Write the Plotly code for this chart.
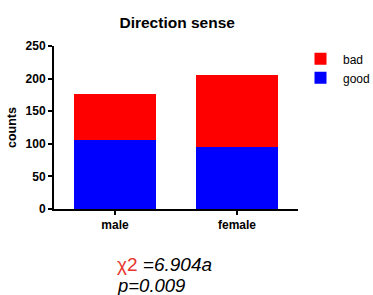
import plotly.graph_objects as go

categories = ["male", "female"]
good = [106, 95]
bad = [71, 110]
y_ticks = [0, 50, 100, 150, 200, 250]

FONT = "Liberation Sans, Arial, sans-serif"

fig = go.Figure()
fig.add_trace(go.Bar(x=categories, y=good, name="good", marker=dict(color="#0000FF", line=dict(width=0))))
fig.add_trace(go.Bar(x=categories, y=bad, name="bad", marker=dict(color="#FF0000", line=dict(width=0))))

fig.update_layout(
    width=373, height=295,
    barmode="stack", bargap=0.32,
    paper_bgcolor="white", plot_bgcolor="white",
    margin=dict(l=54, r=75, t=46, b=86, autoexpand=False),
    font=dict(family=FONT, color="black"),
    title=dict(text="<b>Direction sense</b>", x=0.475, xanchor="center", y=0.925, yanchor="middle",
               font=dict(size=15.5, family=FONT)),
    legend=dict(x=1.0, y=1.01, xanchor="left", yanchor="top", traceorder="reversed",
                font=dict(size=12, family=FONT), bgcolor="rgba(0,0,0,0)", itemsizing="constant",
                itemwidth=35, borderwidth=0),
    showlegend=True,
)
fig.update_yaxes(range=[0, 250], tickvals=y_ticks, showgrid=False, zeroline=False, automargin=False,
                 showline=True, linecolor="black", linewidth=2, ticks="outside", ticklen=4,
                 tickwidth=2, tickcolor="black", tickfont=dict(size=12, family=FONT, weight="bold"),
                 title=dict(text="<b>counts</b>", font=dict(size=12.5, family=FONT), standoff=6))
fig.update_xaxes(range=[-0.5, 1.5], showgrid=False, showline=True, linecolor="black", linewidth=2,
                 automargin=False, ticks="outside", ticklen=4, tickwidth=2, tickcolor="black",
                 tickfont=dict(size=12, family=FONT, weight="bold"))

fig.add_annotation(xref="paper", yref="paper", x=0.25, y=-0.34, xanchor="left", yanchor="middle",
                   showarrow=False,
                   text="<span style='color:#E8342C'>χ2</span> <i>=6.904a</i>",
                   font=dict(size=19, family=FONT, color="black"))
fig.add_annotation(xref="paper", yref="paper", x=0.25, y=-0.47, xanchor="left", yanchor="middle",
                   showarrow=False, text="<i>p=0.009</i>",
                   font=dict(size=18.5, family=FONT, color="black"))

fig.write_html("out.html", config={"displayModeBar": False},
               post_script="document.body.style.margin='0';document.body.style.overflow='hidden';")
